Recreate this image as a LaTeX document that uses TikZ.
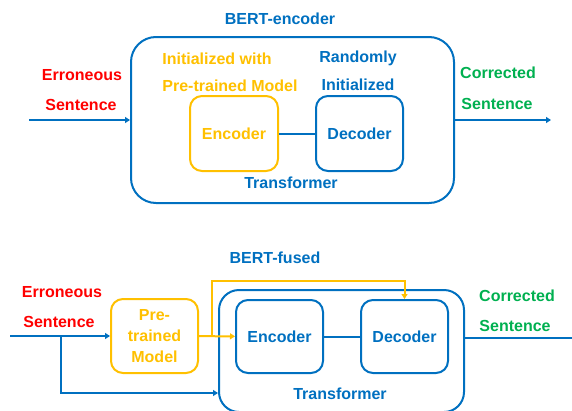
\documentclass[tikz,border=0pt]{standalone}
\usepackage{fontspec}
\setmainfont{Liberation Sans}
\usetikzlibrary{arrows.meta}
\definecolor{cblue}{HTML}{0070C0}
\definecolor{cyel}{HTML}{FFC000}
\definecolor{cred}{HTML}{FF0000}
\definecolor{cgreen}{HTML}{00B050}
\tikzset{
  lbl/.style={font=\bfseries\fontsize{16}{21}\selectfont, inner sep=0pt},
  bbox/.style={draw=cblue, line width=2pt, rounded corners=12pt, inner sep=0pt},
  ybox/.style={draw=cyel, line width=2pt, rounded corners=12pt, inner sep=0pt},
  bline/.style={draw=cblue, line width=2pt},
  yline/.style={draw=cyel, line width=2pt},
  tip/.style={-{Triangle[length=5pt,width=6pt]}},
}
\begin{document}
\begin{tikzpicture}[x=1pt,y=-1pt]
\useasboundingbox (0,0) rectangle (572,410);
% ---------- top: BERT-encoder ----------
\node[lbl, text=cblue] (tA) at (280,19) {BERT-encoder};
\node[bbox, rounded corners=25pt, minimum width=323pt, minimum height=166pt] (outerA) at (292.5,120) {};
\node[ybox, minimum width=88pt, minimum height=75pt, text=cyel, lbl] (encA) at (234,133.5) {Encoder};
\node[bbox, minimum width=87pt, minimum height=75pt, text=cblue, lbl] (decA) at (359.5,133.5) {Decoder};
\node[lbl, text=cyel] (iw) at (217,59) {Initialized with};
\node[lbl, text=cyel] (ptmA) at (230,86) {Pre-trained Model};
\node[lbl, text=cblue] (rnd) at (358,58) {Randomly};
\node[lbl, text=cblue] (ini) at (358,85) {Initialized};
\node[lbl, text=cblue] (trA) at (291,183) {Transformer};
\node[lbl, text=cred] (errA) at (82,75) {Erroneous};
\node[lbl, text=cred] (senA) at (81,105) {Sentence};
\node[lbl, text=cgreen] (corA) at (498,73) {Corrected};
\node[lbl, text=cgreen] (senA2) at (497,104) {Sentence};
\coordinate (inA) at (29,120);
\coordinate (outA) at (551,120);
\draw[bline, tip] (inA) -- (outerA);
\draw[bline, tip] (outerA) -- (outA);
\draw[bline] (encA) -- (decA);
% ---------- bottom: BERT-fused ----------
\node[lbl, text=cblue] (tB) at (275,258) {BERT-fused};
\node[bbox, rounded corners=20pt, minimum width=245pt, minimum height=122pt] (outerB) at (341.5,351) {};
\node[ybox, minimum width=87pt, minimum height=74pt, text=cyel, lbl, align=center] (ptm) at (154.5,336) {Pre-\\trained\\Model};
\node[bbox, minimum width=87pt, minimum height=73pt, text=cblue, lbl] (encB) at (279.5,336.5) {Encoder};
\node[bbox, minimum width=87pt, minimum height=73pt, text=cblue, lbl] (decB) at (404.5,336.5) {Decoder};
\node[lbl, text=cblue] (trB) at (340,394) {Transformer};
\node[lbl, text=cred] (errB) at (62,292) {Erroneous};
\node[lbl, text=cred] (senB) at (59,322) {Sentence};
\node[lbl, text=cgreen] (corB) at (517,296) {Corrected};
\node[lbl, text=cgreen] (senB2) at (515,326) {Sentence};
\coordinate (inB) at (10,336);
\coordinate (brB) at (61,336);
\coordinate (lowB) at (61,393);
\coordinate (outB) at (572,338);
\coordinate (yb) at (212,336);
\coordinate (ytop) at (212,281);
\draw[bline, tip] (inB) -- (ptm);
\draw[bline, tip] (brB) -- (lowB) -- (lowB -| outerB.west);
\draw[bline] (encB) -- (decB);
\draw[bline] (outerB.east |- outB) -- (outB);
\draw[yline, tip] (ptm) -- (encB);
\draw[yline, tip] (yb) -- (ytop) -- (ytop -| decB.north) -- (decB.north);
\end{tikzpicture}
\end{document}
